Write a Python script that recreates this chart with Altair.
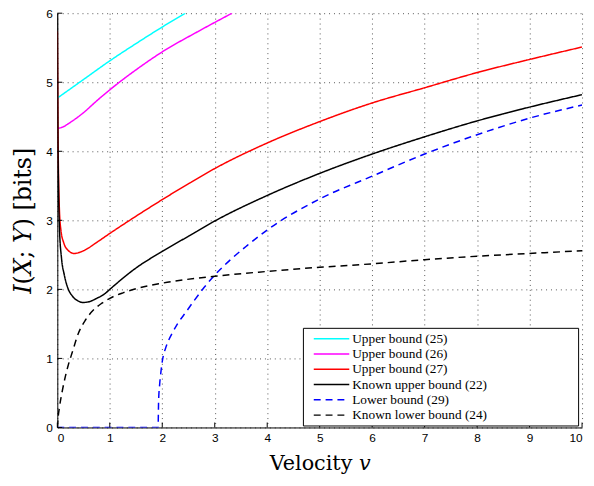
import altair as alt
import pandas as pd

# ---- data ----
labels = ["Upper bound (25)", "Upper bound (26)", "Upper bound (27)",
          "Known upper bound (22)", "Lower bound (29)", "Known lower bound (24)"]
colors = ["#00FFFF", "#FF00FF", "#FF0000", "#000000", "#0000FF", "#000000"]
dashes = [[1, 0], [1, 0], [1, 0], [1, 0], [7, 5], [7, 5]]

v25 = [0, 0.5, 1, 1.5, 2, 2.44]
i25 = [4.77, 5.04, 5.31, 5.56, 5.80, 6.0]

v26 = [0, 0.1, 0.25, 0.5, 0.75, 1, 1.5, 2, 2.67, 3.33]
i26 = [4.33, 4.35, 4.42, 4.56, 4.73, 4.89, 5.18, 5.44, 5.73, 6.0]

v27 = [0, 0.01, 0.02, 0.04, 0.07, 0.12, 0.2, 0.32, 0.5, 0.75, 1, 1.5, 2, 2.5,
       3, 4, 5, 6, 7, 8, 9, 10]
i27 = [5.74, 4.5, 3.8, 3.15, 2.85, 2.68, 2.57, 2.52, 2.56, 2.68, 2.81, 3.06, 3.30, 3.53,
       3.75, 4.12, 4.43, 4.70, 4.92, 5.14, 5.33, 5.51]

v22 = [0, 0.005, 0.01, 0.02, 0.04, 0.08, 0.13, 0.2, 0.29, 0.4, 0.48, 0.6, 0.75, 0.91,
       1.0, 1.5, 2, 2.5, 3, 4, 5, 6, 7, 8, 9, 10]
i22 = [6.0, 5.0, 4.3, 3.6, 2.9, 2.45, 2.22, 2.02, 1.90, 1.83, 1.81, 1.82, 1.87, 1.94,
       2.0, 2.31, 2.55, 2.77, 2.99, 3.36, 3.68, 3.96, 4.21, 4.44, 4.64, 4.82]

v29 = [0, 1.92, 1.93, 1.95, 1.98, 2.01, 2.06, 2.12, 2.2, 2.29, 2.45, 2.61, 2.8, 2.98,
       3.3, 3.61, 4, 5, 6, 7, 8, 9, 10]
i29 = [0, 0, 0.38, 0.62, 0.84, 1.0, 1.14, 1.26, 1.38, 1.50, 1.67, 1.84, 2.03, 2.19,
       2.43, 2.63, 2.86, 3.31, 3.64, 3.96, 4.24, 4.48, 4.67]

v24 = [0, 0.02, 0.04, 0.1, 0.2, 0.29, 0.4, 0.54, 0.7, 0.85, 1.0, 1.25, 1.5, 2, 3, 4, 5,
       6, 7, 8, 9, 10]
i24 = [0, 0.18, 0.29, 0.55, 0.88, 1.10, 1.36, 1.56, 1.71, 1.80, 1.87, 1.95, 2.01, 2.09,
       2.19, 2.26, 2.32, 2.37, 2.43, 2.48, 2.52, 2.56]

x_ticks = [0, 1, 2, 3, 4, 5, 6, 7, 8, 9, 10]
y_ticks = [0, 1, 2, 3, 4, 5, 6]

series = [(labels[0], v25, i25), (labels[1], v26, i26), (labels[2], v27, i27),
          (labels[3], v22, i22), (labels[4], v29, i29), (labels[5], v24, i24)]
rows = []
for name, vs, ii in series:
    for k, (a, b) in enumerate(zip(vs, ii)):
        rows.append({"series": name, "v": a, "I": b, "k": k})
df = pd.DataFrame(rows)

W, H = 532, 420
SERIF = "Liberation Serif"
TSERIF = "DejaVu Serif"
SANS = "Liberation Sans"

xs = alt.Scale(domain=[0, 10], nice=False)
ys = alt.Scale(domain=[0, 6], nice=False)

xaxis = alt.Axis(values=x_ticks, title="Velocity 𝑣", format="d",
                 tickSize=0, labelPadding=5, titlePadding=10,
                 labelFont=SANS, titleFont=TSERIF, titleFontSize=21)
yaxis = alt.Axis(values=y_ticks, title="𝐼(𝑋; 𝑌) [bits]", format="d",
                 tickSize=0, labelPadding=5, titlePadding=11,
                 labelFont=SANS, titleFont=TSERIF, titleFontSize=24)

lines = alt.Chart(df).mark_line(clip=True, strokeWidth=1.5, interpolate="monotone").encode(
    x=alt.X("v:Q", scale=xs, axis=xaxis),
    y=alt.Y("I:Q", scale=ys, axis=yaxis),
    color=alt.Color("series:N", scale=alt.Scale(domain=labels, range=colors),
                    sort=labels,
                    legend=alt.Legend(title="\u2800" * 7, titleOrient="right",
                                      titleFont="DejaVu Sans",
                                      titleFontSize=16, titlePadding=0,
                                      orient="none", legendX=249, legendY=319,
                                      symbolType="M-3,0L3,0", symbolSize=144,
                                      symbolOffset=18, labelOffset=14,
                                      symbolStrokeWidth=1.5,
                                      labelFont=SERIF, labelFontSize=13.5,
                                      labelColor="black",
                                      strokeColor="black", fillColor="white",
                                      padding=4, rowPadding=1.5, labelLimit=300)),
    strokeDash=alt.StrokeDash("series:N", scale=alt.Scale(domain=labels, range=dashes),
                              sort=labels, legend=None),
    order="k:Q",
)

xt = pd.DataFrame({"t": x_ticks})
yt = pd.DataFrame({"t": y_ticks})
xtick = alt.Chart(xt).mark_rule(color="black", strokeWidth=1).encode(
    x=alt.X("t:Q", scale=xs, axis=xaxis), y=alt.value(H), y2=alt.value(H - 5))
ytick = alt.Chart(yt).mark_rule(color="black", strokeWidth=1).encode(
    y=alt.Y("t:Q", scale=ys, axis=yaxis), x=alt.value(0), x2=alt.value(5))

chart = alt.layer(lines, xtick, ytick).properties(
    width=W, height=H,
    autosize=alt.AutoSizeParams(type="none"),
    padding={"left": 50, "top": 2, "right": 4, "bottom": 50},
).configure_view(stroke=None).configure_axis(
    grid=True, gridColor="#555555", gridDash=[1, 4], gridWidth=1, gridOpacity=1,
    domainColor="black", domainWidth=1,
    labelFontSize=12, labelColor="black",
    titleFontWeight="normal", titleColor="black",
)

chart.save("out.html", embed_options={"renderer": "svg", "actions": False})
